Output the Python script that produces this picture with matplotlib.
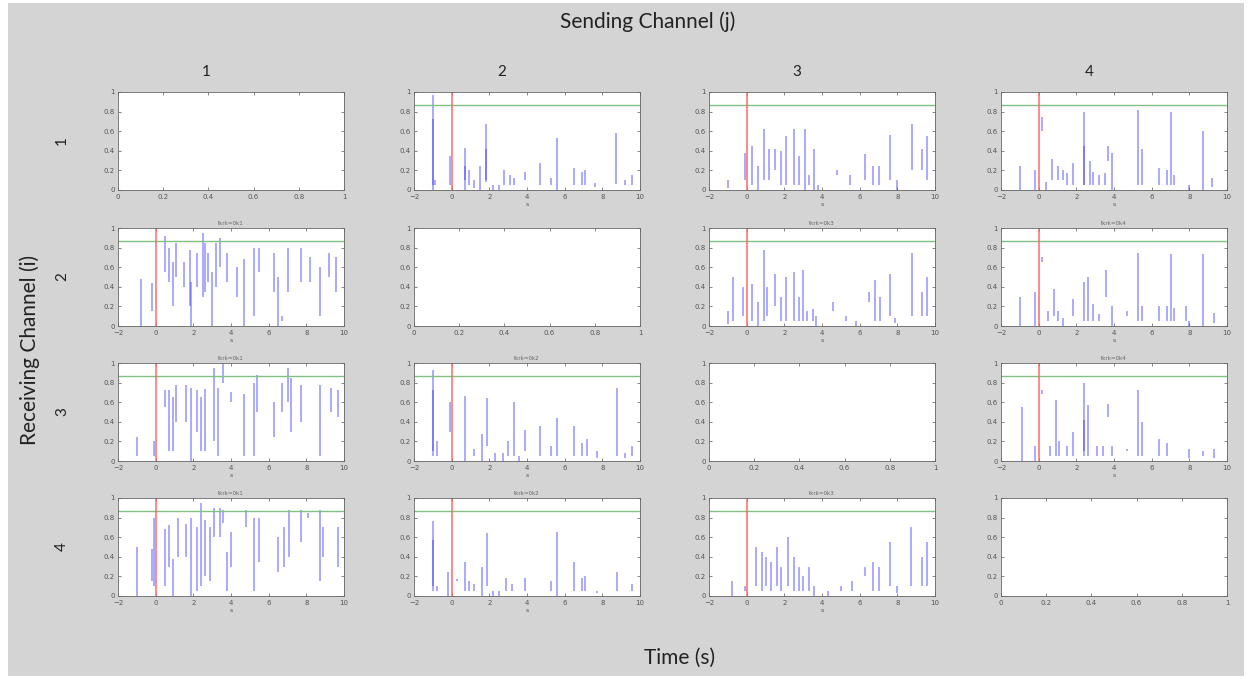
import numpy as np
import matplotlib
matplotlib.use("Agg")
import matplotlib.pyplot as plt
from matplotlib.patches import Rectangle

# spike data per panel (row i = receiving, col j = sending): x position, low, high
spk_1_2 = dict(x=[-1.0, -1.0, -0.9, -0.1, 0.7, 0.7, 0.9, 1.2, 1.5, 1.8, 1.8, 2.2, 2.5, 2.8, 3.1, 3.3, 3.9, 4.7, 5.3, 5.6, 6.5, 6.9, 7.1, 7.6, 8.7, 9.2, 9.6],
               lo=[0.0, 0.05, 0.05, 0.05, 0.0, 0.1, 0.05, 0.02, 0.0, 0.08, 0.1, 0.0, 0.0, 0.05, 0.05, 0.05, 0.1, 0.05, 0.05, 0.0, 0.05, 0.05, 0.05, 0.03, 0.06, 0.05, 0.05],
               hi=[0.97, 0.72, 0.1, 0.35, 0.43, 0.25, 0.2, 0.1, 0.25, 0.67, 0.42, 0.05, 0.05, 0.2, 0.15, 0.12, 0.18, 0.28, 0.12, 0.53, 0.22, 0.18, 0.2, 0.07, 0.58, 0.1, 0.15])
spk_1_3 = dict(x=[-1.0, -0.1, 0.3, 0.6, 0.9, 1.2, 1.5, 1.8, 2.1, 2.5, 2.8, 3.1, 3.3, 3.6, 3.8, 4.8, 5.5, 6.3, 6.7, 7.0, 7.6, 8.0, 8.8, 9.3, 9.6],
               lo=[0.02, 0.1, 0.05, 0.0, 0.1, 0.1, 0.2, 0.05, 0.05, 0.05, 0.05, 0.0, 0.05, 0.0, 0.0, 0.15, 0.05, 0.1, 0.05, 0.05, 0.1, 0.0, 0.2, 0.2, 0.1],
               hi=[0.1, 0.38, 0.45, 0.25, 0.62, 0.42, 0.42, 0.4, 0.55, 0.62, 0.35, 0.62, 0.15, 0.42, 0.05, 0.2, 0.15, 0.37, 0.25, 0.25, 0.56, 0.1, 0.67, 0.42, 0.55])
spk_1_4 = dict(x=[-1.0, -0.2, 0.2, 0.4, 0.7, 1.0, 1.3, 1.5, 1.8, 2.4, 2.4, 2.7, 2.9, 3.2, 3.5, 3.7, 3.9, 5.3, 5.5, 6.4, 6.8, 7.0, 7.2, 8.0, 8.7, 9.2],
               lo=[0.0, 0.0, 0.6, 0.0, 0.1, 0.1, 0.1, 0.05, 0.05, 0.05, 0.05, 0.05, 0.05, 0.05, 0.05, 0.3, 0.0, 0.05, 0.05, 0.05, 0.05, 0.05, 0.05, 0.0, 0.0, 0.03],
               hi=[0.25, 0.2, 0.75, 0.08, 0.32, 0.25, 0.2, 0.17, 0.28, 0.8, 0.45, 0.3, 0.18, 0.15, 0.17, 0.45, 0.38, 0.82, 0.42, 0.22, 0.2, 0.8, 0.15, 0.05, 0.6, 0.12])
spk_2_1 = dict(x=[-0.8, -0.2, 0.5, 0.7, 0.9, 1.1, 1.5, 1.8, 1.9, 2.2, 2.5, 2.6, 2.8, 3.0, 3.2, 3.4, 3.8, 4.3, 4.7, 5.2, 5.5, 6.3, 6.5, 6.7, 7.0, 7.7, 8.2, 8.7, 9.2, 9.6],
               lo=[0.0, 0.15, 0.55, 0.45, 0.2, 0.5, 0.4, 0.2, 0.0, 0.4, 0.3, 0.35, 0.45, 0.0, 0.4, 0.6, 0.45, 0.3, 0.0, 0.1, 0.55, 0.35, 0.0, 0.05, 0.35, 0.45, 0.45, 0.1, 0.5, 0.35],
               hi=[0.48, 0.44, 0.92, 0.8, 0.65, 0.85, 0.65, 0.78, 0.45, 0.75, 0.95, 0.85, 0.75, 0.55, 0.85, 0.9, 0.75, 0.6, 0.68, 0.8, 0.8, 0.75, 0.5, 0.1, 0.8, 0.8, 0.7, 0.6, 0.75, 0.7])
spk_2_3 = dict(x=[-1.0, -0.7, -0.2, 0.3, 0.6, 0.9, 1.1, 1.5, 1.8, 2.1, 2.5, 2.8, 3.0, 3.2, 3.5, 3.7, 4.6, 5.3, 5.8, 6.5, 6.8, 7.1, 7.6, 7.9, 8.8, 9.3, 9.6],
               lo=[0.02, 0.05, 0.1, 0.05, 0.0, 0.05, 0.1, 0.2, 0.05, 0.05, 0.05, 0.05, 0.05, 0.05, 0.05, 0.0, 0.15, 0.05, 0.0, 0.25, 0.05, 0.05, 0.1, 0.03, 0.1, 0.1, 0.1],
               hi=[0.15, 0.5, 0.4, 0.43, 0.25, 0.78, 0.4, 0.53, 0.3, 0.5, 0.55, 0.3, 0.57, 0.15, 0.17, 0.1, 0.25, 0.1, 0.05, 0.35, 0.47, 0.3, 0.53, 0.08, 0.74, 0.35, 0.5])
spk_2_4 = dict(x=[-1.0, -0.2, 0.2, 0.5, 0.8, 1.0, 1.3, 1.8, 2.4, 2.6, 2.9, 3.2, 3.6, 3.9, 4.7, 5.3, 5.5, 6.4, 6.8, 7.0, 7.2, 7.8, 8.0, 8.7, 9.3],
               lo=[0.0, 0.0, 0.65, 0.05, 0.1, 0.05, 0.0, 0.1, 0.05, 0.05, 0.05, 0.05, 0.3, 0.0, 0.1, 0.05, 0.05, 0.05, 0.05, 0.05, 0.05, 0.05, 0.0, 0.0, 0.03],
               hi=[0.3, 0.35, 0.7, 0.15, 0.38, 0.15, 0.08, 0.28, 0.45, 0.5, 0.22, 0.12, 0.57, 0.2, 0.15, 0.74, 0.2, 0.2, 0.2, 0.73, 0.18, 0.2, 0.05, 0.73, 0.13])
spk_3_1 = dict(x=[-1.0, -0.1, 0.5, 0.7, 0.9, 1.1, 1.6, 1.9, 2.2, 2.4, 2.6, 3.1, 3.3, 3.6, 4.0, 4.7, 5.2, 5.4, 6.3, 6.7, 7.0, 7.2, 7.7, 8.7, 9.3, 9.7],
               lo=[0.05, 0.05, 0.55, 0.1, 0.1, 0.4, 0.4, 0.0, 0.3, 0.1, 0.1, 0.2, 0.05, 0.8, 0.6, 0.05, 0.05, 0.5, 0.25, 0.5, 0.6, 0.3, 0.4, 0.05, 0.5, 0.45],
               hi=[0.25, 0.2, 0.72, 0.72, 0.65, 0.78, 0.78, 0.75, 0.72, 0.65, 0.73, 0.95, 0.75, 1.0, 0.7, 0.68, 0.8, 0.88, 0.6, 0.8, 0.95, 0.85, 0.78, 0.78, 0.75, 0.72])
spk_3_2 = dict(x=[-1.0, -1.0, -0.8, -0.1, 0.7, 1.2, 1.6, 1.9, 2.3, 2.7, 3.0, 3.3, 3.6, 3.9, 4.7, 5.3, 5.6, 6.5, 6.9, 7.2, 7.7, 8.8, 9.2, 9.6],
               lo=[0.05, 0.1, 0.05, 0.3, 0.0, 0.05, 0.0, 0.15, 0.0, 0.0, 0.05, 0.05, 0.0, 0.1, 0.05, 0.05, 0.05, 0.05, 0.05, 0.05, 0.03, 0.05, 0.03, 0.05],
               hi=[0.93, 0.72, 0.2, 0.6, 0.66, 0.12, 0.28, 0.64, 0.08, 0.08, 0.2, 0.6, 0.05, 0.32, 0.36, 0.15, 0.44, 0.36, 0.18, 0.22, 0.1, 0.75, 0.08, 0.15])
spk_3_4 = dict(x=[-0.9, -0.2, 0.2, 0.6, 0.9, 1.1, 1.5, 1.8, 2.4, 2.4, 2.6, 3.1, 3.4, 3.7, 3.9, 4.7, 5.3, 5.5, 6.4, 6.8, 8.0, 8.7, 9.3],
               lo=[0.0, 0.0, 0.68, 0.05, 0.05, 0.05, 0.05, 0.05, 0.05, 0.1, 0.05, 0.05, 0.05, 0.45, 0.05, 0.1, 0.05, 0.05, 0.05, 0.05, 0.03, 0.05, 0.03],
               hi=[0.55, 0.15, 0.72, 0.15, 0.62, 0.2, 0.15, 0.3, 0.8, 0.42, 0.57, 0.15, 0.15, 0.58, 0.15, 0.12, 0.72, 0.4, 0.22, 0.18, 0.12, 0.1, 0.12])
spk_4_1 = dict(x=[-1.0, -0.2, -0.1, 0.5, 0.7, 0.9, 1.2, 1.6, 1.9, 2.2, 2.4, 2.6, 2.9, 3.1, 3.4, 3.6, 3.8, 4.0, 4.8, 5.2, 5.5, 6.5, 6.8, 7.1, 7.7, 8.1, 8.7, 8.9, 9.7],
               lo=[0.0, 0.15, 0.1, 0.1, 0.3, 0.0, 0.4, 0.4, 0.0, 0.05, 0.1, 0.2, 0.15, 0.6, 0.6, 0.75, 0.05, 0.3, 0.7, 0.05, 0.35, 0.25, 0.3, 0.4, 0.55, 0.8, 0.15, 0.4, 0.3],
               hi=[0.5, 0.48, 0.8, 0.68, 0.72, 0.38, 0.8, 0.73, 0.8, 0.7, 0.95, 0.78, 0.7, 0.9, 0.9, 0.88, 0.45, 0.65, 0.88, 0.8, 0.8, 0.6, 0.7, 0.88, 0.88, 0.85, 0.88, 0.7, 0.7])
spk_4_2 = dict(x=[-1.0, -1.0, -0.8, -0.2, 0.3, 0.7, 0.9, 1.2, 1.6, 1.9, 2.2, 2.5, 2.9, 3.2, 3.9, 5.3, 5.6, 6.5, 6.9, 7.1, 7.7, 8.8, 9.6],
               lo=[0.05, 0.1, 0.05, 0.0, 0.15, 0.05, 0.05, 0.05, 0.0, 0.1, 0.0, 0.0, 0.05, 0.05, 0.05, 0.05, 0.0, 0.05, 0.05, 0.05, 0.03, 0.05, 0.05],
               hi=[0.77, 0.57, 0.1, 0.25, 0.17, 0.35, 0.15, 0.12, 0.3, 0.64, 0.05, 0.05, 0.18, 0.12, 0.18, 0.15, 0.65, 0.35, 0.18, 0.2, 0.05, 0.25, 0.12])
spk_4_3 = dict(x=[-0.8, -0.1, 0.5, 0.8, 1.0, 1.3, 1.6, 1.8, 2.2, 2.5, 2.8, 3.0, 3.3, 3.6, 4.3, 5.0, 5.6, 6.3, 6.7, 7.0, 7.6, 8.0, 8.7, 9.3, 9.6],
               lo=[0.0, 0.05, 0.1, 0.05, 0.1, 0.05, 0.1, 0.05, 0.1, 0.05, 0.05, 0.05, 0.05, 0.0, 0.0, 0.05, 0.05, 0.2, 0.05, 0.05, 0.1, 0.03, 0.1, 0.1, 0.1],
               hi=[0.15, 0.1, 0.5, 0.45, 0.4, 0.35, 0.5, 0.3, 0.6, 0.4, 0.3, 0.2, 0.3, 0.1, 0.05, 0.1, 0.15, 0.3, 0.35, 0.3, 0.55, 0.1, 0.7, 0.4, 0.55])

panels = {(0, 1): spk_1_2, (0, 2): spk_1_3, (0, 3): spk_1_4,
          (1, 0): spk_2_1, (1, 2): spk_2_3, (1, 3): spk_2_4,
          (2, 0): spk_3_1, (2, 1): spk_3_2, (2, 3): spk_3_4,
          (3, 0): spk_4_1, (3, 1): spk_4_2, (3, 2): spk_4_3}

threshold = 0.87
channels = ["1", "2", "3", "4"]
titles = ["tkrk=0k1", "tkrk=0k2", "tkrk=0k3", "tkrk=0k4"]

W, H = 1248, 679
fig = plt.figure(figsize=(W / 100, H / 100), dpi=100, facecolor="white")
fig.patches.append(Rectangle((8 / W, 3 / H), 1236 / W, 673 / H, transform=fig.transFigure,
                             facecolor="#d4d4d4", edgecolor="none", zorder=-10))

col_left = [118, 414, 709, 1001]
row_top = [92, 228, 363, 498]
aw, ah = 226, 98

for i in range(4):
    for j in range(4):
        ax = fig.add_axes([col_left[j] / W, 1 - (row_top[i] + ah) / H, aw / W, ah / H])
        for s in ax.spines.values():
            s.set_linewidth(0.6)
            s.set_color("#666666")
        ax.tick_params(labelsize=5, direction="in", length=2, width=0.5, colors="#555555",
                       top=True, right=True)
        ax.tick_params(axis="x", pad=3)
        ax.tick_params(axis="y", pad=2.5)
        ax.set_ylim(0, 1)
        ax.set_yticks([0, 0.2, 0.4, 0.6, 0.8, 1])
        ax.set_yticklabels(["0", "0.2", "0.4", "0.6", "0.8", "1"])
        if i == j:
            ax.set_xlim(0, 1)
            ax.set_xticks([0, 0.2, 0.4, 0.6, 0.8, 1])
            ax.set_xticklabels(["0", "0.2", "0.4", "0.6", "0.8", "1"])
            continue
        d = panels[(i, j)]
        ax.set_xlim(-2, 10)
        ax.set_xticks([-2, 0, 2, 4, 6, 8, 10])
        ax.vlines(d["x"], d["lo"], d["hi"], color="#3a3aff", alpha=0.55, linewidth=1.1)
        ax.axhline(threshold, color="#80c080", linewidth=1.0)
        ax.axvline(0, color="#ff6060", linewidth=1.3, alpha=0.8)
        ax.set_xlabel("s", fontsize=4.5, color="#555555", labelpad=1)
        if i > 0:
            ax.set_title(titles[j], fontsize=4, color="#666666", pad=2)

title_font = "Lato"
fig.text(648 / W, 1 - 22 / H, "Sending Channel (j)", ha="center", va="center", fontsize=15,
         family=title_font, color="#222222")
for j in range(4):
    fig.text((col_left[j] + aw / 2 - 25) / W, 1 - 72 / H, channels[j], ha="center", va="center",
             fontsize=11, family=title_font, color="#222222")
for i in range(4):
    fig.text(62 / W, 1 - (row_top[i] + ah / 2) / H, channels[i], ha="center", va="center",
             fontsize=11, rotation=90, family=title_font, color="#222222")
fig.text(30 / W, 1 - 350 / H, "Receiving Channel (i)", ha="center", va="center", fontsize=15,
         rotation=90, family=title_font, color="#222222")
fig.text(680 / W, 1 - 658 / H, "Time (s)", ha="center", va="center", fontsize=15,
         family=title_font, color="#222222")

fig.savefig("out.png", dpi=100, facecolor=fig.get_facecolor())
